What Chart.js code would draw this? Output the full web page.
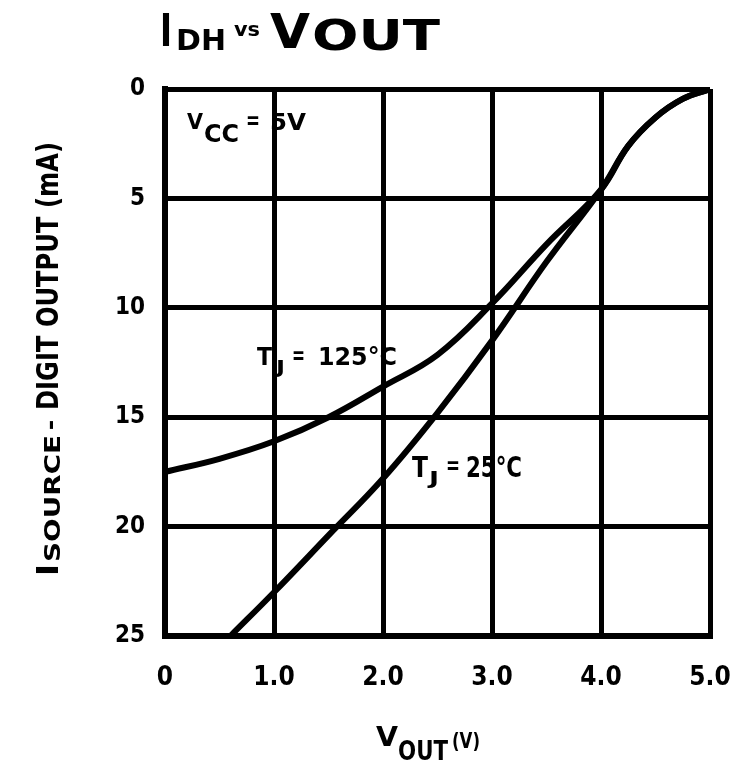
<!DOCTYPE html>
<html>
<head>
<meta charset="utf-8">
<script src="https://cdn.jsdelivr.net/npm/chart.js@4"></script>
<style>
  html, body { margin: 0; padding: 0; background: #fff; }
  #wrap { width: 752px; height: 772px; position: relative; }
</style>
</head>
<body>
<div id="wrap"><canvas id="chart" width="752" height="772"></canvas></div>
<script>
// values (V, mA)
const vout125 = [0, 0.5, 1.0, 1.5, 2.0, 2.5, 3.0, 3.5, 4.0, 4.25, 4.5, 4.75, 5.0];
const isrc125 = [17.5, 16.9, 16.1, 15.0, 13.6, 12.15, 9.8, 7.1, 4.6, 2.6, 1.3, 0.45, 0];
const vout25 = [0.6, 1.0, 1.5, 2.0, 2.5, 3.0, 3.5, 4.0, 4.25, 4.5, 4.75, 5.0];
const isrc25 = [25, 23.0, 20.4, 17.8, 14.8, 11.5, 7.9, 4.6, 2.6, 1.3, 0.45, 0];
const xTicks = ['0', '1.0', '2.0', '3.0', '4.0', '5.0'];
const yTicks = ['0', '5', '10', '15', '20', '25'];

const FONT = "'DejaVu Sans Condensed', 'DejaVu Sans', sans-serif";

function pts(xs, ys) {
  return xs.map((x, i) => ({ x: x, y: ys[i] }));
}

// one piece of text squeezed/stretched to a given width
function piece(ctx, text, x, base, size, w) {
  ctx.font = `bold ${size}px ${FONT}`;
  const nw = ctx.measureText(text).width;
  ctx.save();
  ctx.translate(x, base);
  ctx.scale(w / nw, 1);
  ctx.fillText(text, 0, 0);
  ctx.restore();
}

const textPlugin = {
  id: 'texts',
  afterDraw(chart) {
    const ctx = chart.ctx;
    ctx.save();
    ctx.fillStyle = '#000';
    ctx.textBaseline = 'alphabetic';
    ctx.textAlign = 'left';
    // title
    piece(ctx, 'I', 160, 46, 44, 12);
    piece(ctx, 'DH', 176, 50, 28, 50);
    piece(ctx, 'vs', 234, 36, 19, 26);
    piece(ctx, 'V', 270, 48, 48, 40);
    piece(ctx, 'OUT', 312, 50, 42, 128);
    // VCC = 5V
    piece(ctx, 'V', 187, 129, 22, 16);
    piece(ctx, 'CC', 204, 142, 24, 35);
    piece(ctx, '=', 246, 129, 24, 14);
    piece(ctx, '5V', 270, 130, 23, 36);
    // TJ = 125°C
    piece(ctx, 'T', 257, 365, 25, 15);
    piece(ctx, 'J', 276, 373, 18, 9);
    piece(ctx, '=', 292, 364, 24, 13);
    piece(ctx, '125°C', 318, 365, 25, 79);
    // TJ = 25°C
    piece(ctx, 'T', 412, 477, 28, 16);
    piece(ctx, 'J', 429, 484, 18, 10);
    piece(ctx, '=', 446, 474, 24, 14);
    piece(ctx, '25°C', 466, 477, 28, 56);
    // x axis title
    piece(ctx, 'V', 376, 746, 26, 22);
    piece(ctx, 'OUT', 398, 760, 26, 50);
    piece(ctx, '(V)', 452, 748, 22, 28);
    // y axis title, rotated
    ctx.translate(58, 576);
    ctx.rotate(-Math.PI / 2);
    piece(ctx, 'I', 0, 0, 30, 12);
    piece(ctx, 'SOURCE', 14, 2, 22, 127);
    piece(ctx, '–', 146, 0, 24, 10);
    piece(ctx, 'DIGIT OUTPUT (mA)', 166, 0, 30, 268);
    ctx.restore();
  }
};

new Chart(document.getElementById('chart'), {
  type: 'line',
  data: {
    datasets: [
      { label: 'TJ = 125°C', data: pts(vout125, isrc125), borderColor: '#000', borderWidth: 6,
        pointRadius: 0, fill: false, tension: 0.4 },
      { label: 'TJ = 25°C', data: pts(vout25, isrc25), borderColor: '#000', borderWidth: 6,
        pointRadius: 0, fill: false, tension: 0.4 }
    ]
  },
  options: {
    responsive: false,
    animation: false,
    layout: { padding: { top: 89, right: 42, left: 0, bottom: 0 } },
    plugins: { legend: { display: false }, tooltip: { enabled: false } },
    scales: {
      x: {
        type: 'linear', min: 0, max: 5,
        afterFit: s => { s.height = 136; s.paddingLeft = 0; s.paddingRight = 0; },
        afterBuildTicks: s => { s.ticks = xTicks.map((t, i) => ({ value: i })); },
        grid: { color: '#000', lineWidth: 5, drawTicks: false },
        border: { color: '#000', width: 6 },
        ticks: {
          color: '#000', padding: 27,
          font: { family: FONT, size: 26, weight: 'bold' },
          callback: (v, i) => xTicks[i]
        }
      },
      y: {
        type: 'linear', min: 0, max: 25, reverse: true,
        afterFit: s => { s.width = 165; },
        afterBuildTicks: s => { s.ticks = yTicks.map((t, i) => ({ value: i * 5 })); },
        grid: { color: '#000', lineWidth: 5, drawTicks: false },
        border: { color: '#000', width: 6 },
        ticks: {
          color: '#000', padding: 20,
          font: { family: FONT, size: 24, weight: 'bold' },
          callback: (v, i) => yTicks[i]
        }
      }
    }
  },
  plugins: [textPlugin]
});
</script>
</body>
</html>
